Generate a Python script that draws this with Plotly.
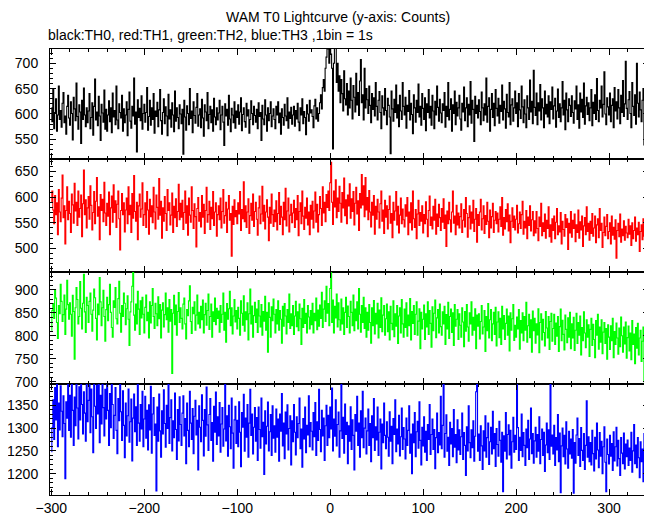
import plotly.graph_objects as go
from plotly.subplots import make_subplots

T_START = -300  # first bin time (s), 1 bin = 1 s

TH0 = [
612,585,648,571,603,630,566,598,655,589,607,574,621,642,583,596,560,615,637,592,
578,624,601,549,633,610,587,661,595,570,618,604,542,627,589,651,598,575,612,583,
606,640,571,593,622,558,615,669,588,604,577,635,596,548,619,602,584,647,570,609,
566,598,626,585,612,563,641,594,607,579,655,588,571,620,603,592,637,566,610,583,
598,624,557,609,643,586,572,615,596,671,580,604,525,628,593,611,587,636,570,601,
619,584,603,652,568,595,627,578,612,589,640,562,606,595,623,575,608,648,587,560,
603,630,581,614,596,557,639,590,608,574,622,598,565,645,586,612,593,571,618,600,
581,609,521,627,594,568,616,601,579,650,591,606,563,624,597,582,613,640,576,598,
610,573,629,592,556,618,604,587,642,571,599,615,583,608,566,631,594,579,612,588,
602,627,569,598,615,584,538,620,596,609,578,637,590,565,611,598,583,624,572,606,
593,618,580,604,632,567,599,612,585,574,621,596,608,562,589,626,601,579,615,597,
584,609,571,622,595,603,548,617,590,579,628,598,566,612,587,601,624,575,596,610,
589,571,615,598,624,583,602,560,610,593,578,619,596,587,632,572,604,591,613,580,
598,615,576,607,590,621,584,567,612,598,630,581,605,593,559,618,600,586,627,602,
608,595,573,616,629,590,612,586,601,622,638,610,652,668,645,690,712,728,745,700,
742,718,690,531,700,740,735,662,700,645,675,622,668,640,606,685,630,618,660,598,
645,612,671,627,590,656,633,604,680,618,642,597,665,707,622,638,588,690,612,650,
628,601,655,617,583,640,609,632,596,662,615,588,627,644,603,571,636,612,598,650,
607,579,631,617,594,522,645,610,586,629,603,657,592,618,575,637,606,589,662,615,
598,633,572,617,605,646,588,621,599,561,638,612,584,627,603,659,594,615,578,640,
611,589,632,567,620,603,648,592,615,578,637,606,571,625,598,655,613,586,629,602,
583,620,607,642,574,615,595,662,588,609,630,566,618,601,645,579,623,596,612,637,
590,568,621,604,653,587,612,632,575,619,598,664,582,627,609,546,635,601,617,592,
628,605,579,643,612,587,620,598,671,584,615,632,566,609,640,593,621,577,648,611,
596,631,582,617,605,657,588,625,610,572,639,603,594,662,579,618,630,586,612,645,
601,622,575,640,608,591,655,614,583,628,600,573,636,612,589,667,604,625,581,686,
613,597,641,579,622,606,658,588,630,612,573,645,600,619,594,636,581,624,609,653,
590,616,631,574,606,649,593,620,585,612,664,598,627,569,641,608,585,630,617,595,
636,603,582,626,610,655,589,618,572,641,604,629,593,661,580,616,633,599,622,587,
612,648,577,623,601,638,589,670,607,585,627,612,655,594,619,683,600,579,632,614,
598,641,585,617,630,573,652,606,624,590,648,612,581,637,603,666,595,620,704,611,
589,628,644,601,573,662,615,597,638,580,700,621,594,643,608,585,627,650,539,612,
525]

TH1 = [
590,612,575,548,603,566,589,527,615,571,552,598,643,560,583,509,574,620,556,592,
568,531,606,585,549,627,573,590,545,612,561,578,604,523,587,653,566,595,540,579,
601,557,622,584,536,570,611,548,592,638,563,581,517,605,574,596,552,629,569,545,
588,563,610,527,579,602,551,624,570,593,541,586,612,558,497,574,607,566,589,532,
575,598,548,620,566,584,531,607,559,642,572,553,590,517,583,606,561,577,628,545,
566,589,541,611,575,528,596,562,583,550,619,571,538,604,580,557,636,565,592,520,
579,553,601,568,535,615,574,589,546,565,608,531,582,560,597,543,572,625,556,588,
561,594,537,570,612,549,583,526,598,565,551,620,574,539,587,562,503,578,599,553,
570,542,603,561,586,529,574,619,551,566,592,537,580,558,611,545,571,589,524,566,
583,556,598,540,572,615,549,564,590,531,577,603,555,568,485,582,547,595,562,574,
548,589,567,611,535,576,558,630,552,583,541,571,597,529,564,588,555,606,543,572,
590,557,526,579,602,548,567,621,553,584,538,571,595,561,515,580,549,606,566,543,
575,552,593,536,568,609,547,582,561,527,590,556,617,544,573,598,532,565,586,550,
569,594,541,578,556,603,525,572,589,548,612,563,537,580,559,598,546,571,527,584,
557,592,540,573,610,551,586,532,566,601,578,545,620,569,590,552,605,580,612,574,
628,668,590,547,612,581,634,560,598,572,621,588,551,609,579,637,564,595,548,604,
583,626,559,597,572,611,546,588,619,567,593,535,607,579,644,585,622,562,638,575,
599,556,613,571,542,590,565,603,528,582,557,596,571,540,587,612,553,575,529,594,
561,583,538,576,602,549,568,521,590,555,573,611,546,582,530,565,598,548,577,556,
542,585,563,599,527,571,550,589,536,612,558,541,576,519,567,594,545,570,553,583,
530,566,548,591,557,523,574,602,545,561,538,582,555,596,528,567,543,586,560,535,
578,551,597,539,565,504,573,548,590,556,532,571,612,549,563,527,584,546,569,540,
562,587,531,555,576,542,599,568,522,560,583,538,571,549,594,533,557,578,512,566,
545,571,596,536,558,583,529,564,547,590,553,521,575,540,562,588,531,555,572,548,
569,532,557,581,543,599,526,560,538,576,552,587,534,565,511,553,579,541,563,536,
557,584,530,548,571,539,566,592,528,553,540,574,519,561,545,583,534,556,572,525,
554,530,572,539,515,561,543,588,525,550,533,567,520,555,539,581,523,546,512,558,
535,563,519,551,578,527,544,532,570,509,553,537,524,566,541,558,498,549,530,572,
522,555,539,567,513,546,531,575,520,552,536,563,504,544,560,527,581,533,549,516,
553,529,568,524,540,563,511,546,558,521,578,535,549,502,531,561,525,543,566,519,
533,550,509,563,526,541,518,556,481,535,549,523,567,512,538,525,554,516,543,530,
521,557,528,544,506,550,519,535,561,514,540,527,551,494,533,546,517,558,524,537,
529]

TH2 = [
812,855,870,838,901,882,829,794,866,848,912,875,831,846,889,803,858,921,868,836,
872,847,799,888,853,749,861,905,879,826,842,918,860,815,871,934,852,807,884,866,
829,875,893,847,810,856,902,883,838,791,869,846,927,874,822,861,899,842,788,857,
884,833,868,912,851,818,797,876,862,905,837,826,881,919,849,808,866,842,893,871,
824,859,887,836,779,852,874,908,941,845,812,869,826,897,858,803,876,839,884,847,
806,862,889,833,851,795,874,828,866,903,842,816,871,848,822,885,837,868,795,856,
872,819,846,893,835,861,808,879,832,857,718,849,888,824,867,801,853,894,829,861,
838,815,869,882,826,793,857,844,876,909,831,805,862,848,874,812,845,889,826,851,
817,864,835,878,806,846,871,823,855,891,814,842,869,797,852,831,882,824,860,838,
854,808,866,829,847,893,812,851,786,870,836,859,897,822,861,804,843,879,830,855,
815,862,838,801,876,849,823,887,810,852,835,872,791,848,902,826,865,797,844,873,
829,858,807,877,843,819,868,801,853,832,886,812,851,764,872,840,797,863,833,880,
847,806,857,826,876,812,855,836,784,864,821,870,843,804,857,829,891,816,848,822,
866,803,843,875,820,852,811,869,837,781,860,818,879,827,849,806,866,841,815,855,
824,871,806,849,833,882,813,856,821,867,838,895,818,858,876,831,908,849,870,822,
903,948,829,878,806,864,839,891,819,872,835,812,880,826,861,803,851,884,818,865,
842,806,875,851,822,889,811,858,833,874,815,903,847,808,866,829,884,816,861,797,
851,812,868,829,784,861,822,877,804,849,826,871,795,856,818,883,809,845,866,801,
837,869,809,852,791,864,827,813,876,798,848,821,866,783,843,861,806,879,826,797,
858,818,872,799,845,822,881,791,853,827,866,803,847,874,801,832,859,772,851,815,
836,867,792,848,819,874,803,855,827,775,863,811,849,878,796,839,857,806,869,820,
801,852,826,864,781,846,815,873,794,842,858,807,850,779,868,821,836,857,792,848,
823,797,861,830,776,853,810,868,819,788,850,826,874,801,840,812,859,772,845,821,
848,793,831,866,804,819,855,766,842,811,870,795,835,857,789,826,851,803,862,778,
830,852,796,838,781,864,815,844,792,827,858,801,843,767,850,812,837,868,790,823,
797,841,815,857,771,833,806,850,789,842,812,873,786,822,847,796,835,764,854,811,
838,784,826,802,859,763,829,848,791,836,807,778,853,817,795,842,770,831,849,788,
816,847,781,828,799,842,766,820,858,789,834,803,769,845,814,785,839,797,851,772,
826,795,840,768,812,849,783,829,801,843,758,818,789,852,806,774,835,797,824,755,
814,838,779,825,792,752,833,801,847,771,819,786,835,761,808,829,783,816,749,824,
797,770,822,789,838,752,809,781,828,795,760,817,776,841,800,764,819,782,830,751,
796,821,767,806,748,833,781,804,739,818,773,827,758,795,812,744,788,819,700,791,
782]

TH3 = [
1248,1301,1362,1275,1389,1318,1402,1259,1355,1296,1393,1337,1281,1371,1310,1189,1358,1322,1410,1295,
1372,1280,1415,1339,1262,1368,1305,1409,1344,1276,1391,1318,1420,1352,1287,1380,1333,1271,1398,1314,
1361,1412,1290,1386,1325,1246,1403,1348,1299,1394,1331,1416,1268,1372,1309,1422,1345,1283,1385,1320,
1401,1339,1262,1376,1301,1411,1352,1277,1328,1389,1295,1244,1365,1316,1397,1336,1273,1382,1306,1235,
1355,1283,1327,1386,1269,1314,1364,1228,1322,1375,1292,1347,1262,1405,1311,1271,1352,1298,1381,1259,
1320,1370,1278,1339,1252,1351,1296,1392,1245,1331,1367,1284,1309,1162,1346,1271,1375,1294,1236,1338,
1287,1384,1310,1258,1350,1299,1400,1266,1323,1362,1250,1316,1279,1377,1297,1231,1341,1272,1369,1308,
1262,1333,1371,1283,1321,1222,1355,1295,1259,1381,1311,1275,1343,1244,1326,1361,1285,1317,1208,1349,
1302,1270,1373,1317,1239,1341,1282,1390,1307,1251,1330,1365,1273,1312,1227,1348,1291,1379,1264,1325,
1283,1356,1247,1309,1345,1260,1298,1404,1272,1327,1238,1350,1303,1255,1366,1289,1212,1318,1348,1266,
1317,1259,1358,1291,1215,1334,1302,1374,1249,1322,1280,1352,1236,1311,1385,1284,1331,1243,1302,1345,
1271,1323,1229,1346,1297,1256,1366,1281,1313,1198,1338,1265,1304,1357,1250,1292,1330,1240,1349,1278,
1305,1247,1342,1280,1320,1227,1331,1293,1376,1261,1311,1233,1335,1287,1351,1252,1299,1327,1219,1316,
1270,1352,1291,1241,1325,1279,1310,1366,1255,1298,1214,1321,1276,1346,1246,1306,1285,1371,1259,1312,
1293,1252,1334,1281,1356,1240,1314,1273,1385,1297,1248,1339,1283,1322,1229,1305,1350,1262,1328,1279,
1346,1298,1388,1250,1320,1282,1362,1261,1308,1335,1236,1294,1397,1277,1324,1245,1353,1286,1313,1222,
1305,1271,1347,1253,1318,1284,1208,1330,1293,1370,1262,1311,1236,1338,1279,1381,1257,1300,1322,1243,
1294,1342,1262,1310,1226,1327,1279,1365,1251,1303,1274,1346,1240,1291,1320,1210,1309,1268,1355,1284,
1255,1314,1280,1238,1336,1271,1304,1222,1321,1286,1362,1248,1298,1265,1328,1239,1281,1344,1253,1301,
1276,1232,1322,1262,1295,1349,1245,1287,1200,1309,1268,1334,1237,1292,1315,1256,1358,1273,1219,1302,
1261,1325,1247,1293,1229,1308,1275,1352,1242,1286,1320,1253,1297,1211,1279,1333,1246,1290,1263,1370,
1255,1306,1410,1236,1288,1329,1249,1280,1218,1313,1265,1299,1237,1341,1258,1286,1224,1318,1252,1296,
1242,1281,1333,1231,1290,1262,1196,1303,1250,1349,1268,1235,1296,1257,1316,1227,1282,1380,1408,1249,
1287,1229,1305,1261,1209,1294,1250,1327,1236,1279,1311,1220,1270,1302,1243,1337,1255,1288,1216,1299,
1264,1238,1315,1273,1225,1291,1160,1283,1249,1334,1232,1286,1307,1241,1295,1212,1270,1324,1247,1284,
1253,1410,1301,1229,1280,1251,1331,1237,1290,1262,1218,1298,1257,1317,1231,1276,1344,1244,1288,1223,
1272,1302,1236,1286,1249,1325,1222,1275,1298,1240,1291,1205,1263,1311,1246,1296,1231,1412,1260,1285,
1243,1306,1218,1279,1252,1330,1226,1289,1158,1261,1300,1237,1284,1221,1314,1254,1212,1293,1243,1276,
1234,1297,1157,1268,1223,1285,1322,1240,1277,1216,1301,1251,1229,1288,1209,1262,1360,1236,1281,1226,
1268,1219,1295,1244,1206,1280,1232,1311,1252,1213,1290,1238,1271,1200,1259,1303,1225,1160,1276,1242,
1221,1284,1238,1266,1207,1292,1228,1259,1302,1217,1273,1233,1196,1279,1245,1222,1289,1210,1265,1237,
1274,1218,1256,1229,1291,1203,1250,1308,1222,1263,1213,1279,1235,1191,1270,1226,1254,1182,1288,1232,
1158]

SERIES = [
    ("TH0", TH0, "#000000", [511, 728]),
    ("TH1", TH1, "#ff0000", [455, 674]),
    ("TH2", TH2, "#00ff00", [695, 940]),
    ("TH3", TH3, "#0000ff", [1153, 1397]),
]
X_RANGE = [-301.5, 343]

TITLE = "WAM T0 Lightcurve (y-axis: Counts)"
SUBTITLE = "black:TH0, red:TH1, green:TH2, blue:TH3 ,1bin = 1s"

FONT = "Liberation Sans, Arial, Helvetica, sans-serif"

fig = make_subplots(rows=4, cols=1, shared_xaxes=True, vertical_spacing=0)

for i, (name, vals, color, yr) in enumerate(SERIES, start=1):
    t = list(range(T_START, T_START + len(vals)))
    fig.add_trace(
        go.Scatter(x=t, y=vals, mode="lines", name=name,
                   line=dict(color=color, width=1.1, shape="hvh"),
                   showlegend=False, hoverinfo="skip"),
        row=i, col=1)

domains = [[0.753, 1.0], [0.501, 0.753], [0.249, 0.501], [0.0, 0.249]]

axis_common = dict(
    showline=True, linecolor="black", linewidth=1, mirror="allticks",
    ticks="inside", ticklen=6, tickwidth=1, tickcolor="black",
    showgrid=False, zeroline=False, automargin=False,
    tickfont=dict(family=FONT, size=14, color="black"),
)

for i, (name, vals, color, yr) in enumerate(SERIES, start=1):
    fig.update_yaxes(
        range=yr, domain=domains[i - 1], dtick=50, tick0=0,
        minor=dict(ticks="inside", ticklen=3, dtick=10, tick0=0,
                   tickcolor="black", showgrid=False),
        ticklabelstandoff=8,
        row=i, col=1, **axis_common)
    fig.update_xaxes(
        range=X_RANGE, dtick=100, tick0=0,
        minor=dict(ticks="inside", ticklen=3, dtick=20, tick0=0,
                   tickcolor="black", showgrid=False),
        showticklabels=(i == 4), ticklabelstandoff=0,
        row=i, col=1, **axis_common)

fig.add_annotation(text=TITLE, xref="paper", yref="paper", x=0.481, y=1.072,
                   xanchor="center", yanchor="middle", showarrow=False,
                   font=dict(family=FONT, size=14, color="black"))
fig.add_annotation(text=SUBTITLE, xref="paper", yref="paper", x=-0.007, y=1.031,
                   xanchor="left", yanchor="middle", showarrow=False,
                   font=dict(family=FONT, size=14, color="black"))

# The page body has an 8px default margin, so the figure is sized to fill
# the 652x515 window from that offset.
fig.update_layout(
    width=644, height=507,
    margin=dict(l=42, r=3, t=41, b=20, autoexpand=False),
    paper_bgcolor="white", plot_bgcolor="white",
    font=dict(family=FONT, size=14, color="black"),
)

fig.write_html("out.html", config={"displayModeBar": False})
